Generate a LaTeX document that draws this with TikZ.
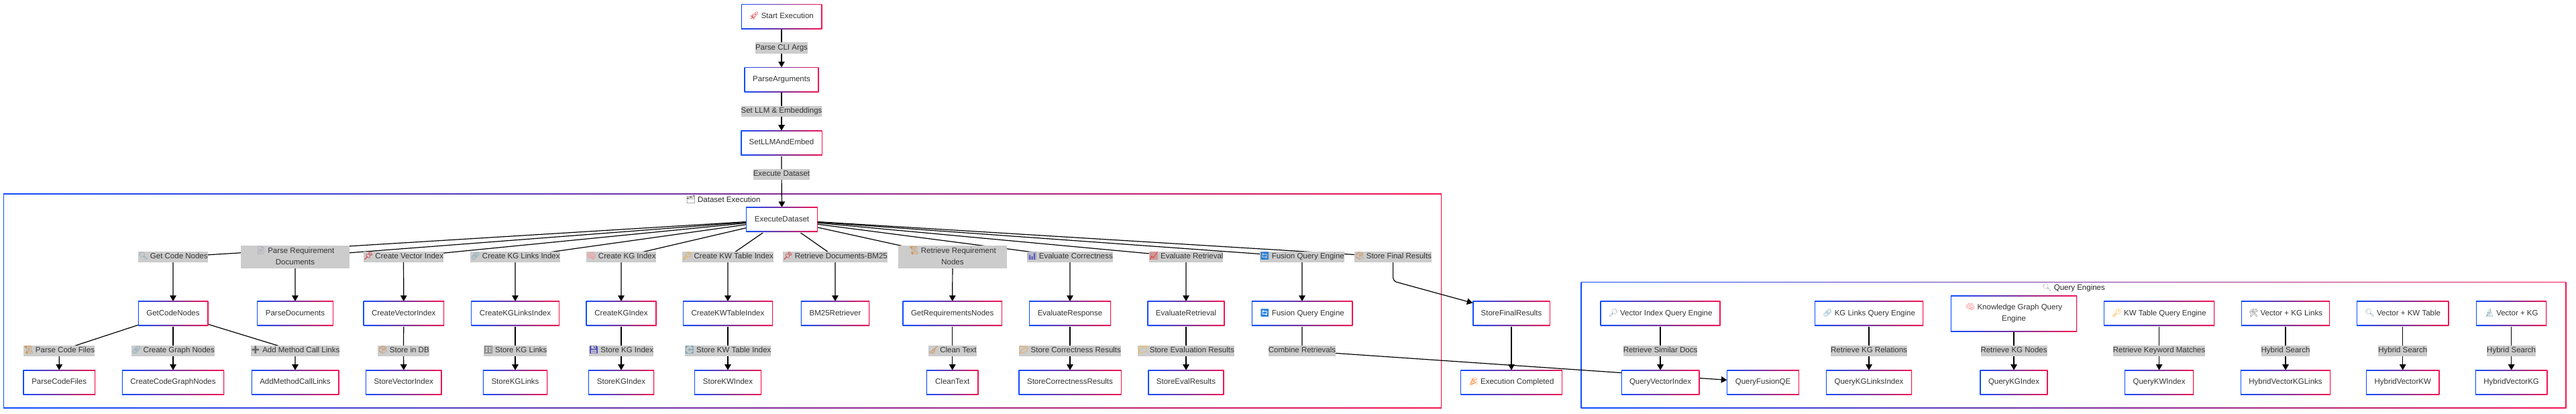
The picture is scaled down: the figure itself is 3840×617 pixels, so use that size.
\documentclass[tikz,border=0pt]{standalone}
\usepackage{fontspec}
\setmainfont{Liberation Sans}
\newfontfamily\emojifont{Noto Emoji}
\usetikzlibrary{arrows.meta}
\pgfdeclarelayer{clusterlayer}
\pgfdeclarelayer{edgelayer}
\pgfsetlayers{clusterlayer,edgelayer,main}
\definecolor{bblue}{HTML}{0F4DFF}
\definecolor{bpurple}{HTML}{7A2E9E}
\definecolor{bred}{HTML}{F5134F}
\definecolor{lblgray}{HTML}{CCCCCC}
\definecolor{txt}{HTML}{333333}
\newcommand{\emo}[2]{\smash{\emojifont\textcolor{#1}{#2}}\hspace{3pt}}
\newcommand{\mst}{\rule[-3pt]{0pt}{11.5pt}}
\tikzset{
  x=1pt,y=-1pt,
  gradbox/.style={rectangle,inner sep=0pt,outer sep=0pt,
    left color=bblue,right color=bred,middle color=bpurple,
    font=\fontsize{11.5pt}{17pt}\selectfont,text=txt,align=center},
  procbox/.style={gradbox,
    preaction={fill=black!9,transform canvas={shift={(0.4pt,-1pt)}}},
    path picture={\fill[white]
      ([shift={(1.2pt,-1.2pt)}]path picture bounding box.north west) rectangle
      ([shift={(-1.2pt,1.2pt)}]path picture bounding box.south east);}},
  clusterbox/.style={gradbox,
    path picture={\fill[white]
      ([shift={(1.1pt,-1.1pt)}]path picture bounding box.north west) rectangle
      ([shift={(-1.1pt,1.1pt)}]path picture bounding box.south east);}},
  lbl/.style={rectangle,fill=lblgray,inner sep=0pt,outer sep=0pt,text=txt,align=center,
    font=\fontsize{11.5pt}{17pt}\selectfont},
  title/.style={inner sep=0pt,text=black!85,font=\fontsize{11.5pt}{17pt}\selectfont},
  edge/.style={draw=black,line width=1.2pt,-{Triangle[length=8.5pt,width=9.5pt]}},
}
% \pn{name}{cx}{width}{cy}{height}{text}
\newcommand{\pn}[6]{\node[procbox,minimum width=#3pt,minimum height=#5pt] (#1) at (#2,#4) {\mst #6\mst};}
% \lb{name}{cx}{width}{cy}{text}
\newcommand{\lb}[5]{\node[lbl,minimum width=#3pt,minimum height=16.7pt] (#1) at (#2,#4) {\mst #5\mst};}
\begin{document}
\begin{tikzpicture}
\useasboundingbox (0,0) rectangle (3840,617);

\begin{pgfonlayer}{clusterlayer}
\fill[white] (0,0) rectangle (3840,617);
\node[clusterbox,minimum width=2144pt,minimum height=320pt] (dsc) at (1077.2,448.5) {};
\node[clusterbox,minimum width=1469pt,minimum height=188pt] (qec) at (3091,514.3) {};
\end{pgfonlayer}
\node[title] (dst) at (1078,297) {\emo{black!70}{🗂}Dataset Execution};
\node[title] (qet) at (3091,429.3) {\emo{lightgray!50!gray}{🔍}Query Engines};

% top column
\pn{st}{1165}{120.5}{24.7}{37.3}{\emo{red!70!gray}{🚀}Start Execution}
\pn{pa}{1165}{111}{118.8}{37}{ParseArguments}
\pn{sl}{1165}{121.4}{213.2}{37}{SetLLMAndEmbed}
\pn{ex}{1165.5}{106.8}{327.3}{36.7}{ExecuteDataset}
\lb{l1}{1165}{75.5}{71.7}{Parse CLI Args}
\lb{l2}{1165}{119}{166}{Set LLM \& Embeddings}
\lb{l3}{1165}{83.2}{260}{Execute Dataset}

% second row
\pn{gc}{258}{104.5}{467.3}{36.7}{GetCodeNodes}
\pn{pd}{440}{113.5}{467.3}{36.7}{ParseDocuments}
\pn{cv}{601.8}{120.5}{467.3}{36.7}{CreateVectorIndex}
\pn{ckl}{768}{131.5}{467.3}{36.7}{CreateKGLinksIndex}
\pn{ck}{926}{105}{467.3}{36.7}{CreateKGIndex}
\pn{ckw}{1085}{134}{467.3}{36.7}{CreateKWTableIndex}
\pn{bm}{1245}{102.4}{467.3}{36.7}{BM25Retriever}
\pn{gr}{1419.7}{148.4}{467.3}{36.7}{GetRequirementsNodes}
\pn{er}{1595}{122}{467.3}{36.7}{EvaluateResponse}
\pn{ev}{1768}{115.3}{467.3}{36.7}{EvaluateRetrieval}
\pn{fq}{1941}{150.5}{467.3}{36.7}{\emo{blue!50!cyan!70!gray}{🔄}Fusion Query Engine}
\pn{sf}{2253}{115.4}{467.3}{36.7}{StoreFinalResults}

% first-row labels
\lb{a1}{258}{102}{383}{\emo{gray!60!cyan}{🔍}Get Code Nodes}
\node[lbl,minimum width=161.6pt,minimum height=33.7pt] (a2) at (440,383) {\mst\emo{blue!20!gray!70}{📄}Parse Requirement\\Documents\mst};
\lb{a3}{601.5}{117}{383}{\emo{red!85!black}{📌}Create Vector Index}
\lb{a4}{768}{131.5}{383}{\emo{cyan!40!gray}{🔗}Create KG Links Index}
\lb{a5}{926}{102}{383}{\emo{red!45!white}{🧠}Create KG Index}
\lb{a6}{1085}{134}{383}{\emo{orange!80!yellow}{🔑}Create KW Table Index}
\lb{a7}{1245}{153.2}{383}{\emo{red!85!black}{📌}Retrieve Documents-BM25}
\node[lbl,minimum width=162.2pt,minimum height=33.7pt] (a8) at (1420,383) {\mst\emo{brown!70!orange}{📜}Retrieve Requirement\\Nodes\mst};
\lb{a9}{1595}{125.6}{383}{\emo{blue!40!gray}{📊}Evaluate Correctness}
\lb{a10}{1768}{109.7}{383}{\emo{red!70!gray}{📈}Evaluate Retrieval}
\lb{a11}{1941}{123.5}{383}{\emo{blue!50!cyan!70!gray}{🔄}Fusion Query Engine}
\lb{a12}{2076.6}{113}{383}{\emo{brown!80!orange}{📦}Store Final Results}

% fourth-row nodes
\pn{pc}{88.2}{107.6}{570}{36.7}{ParseCodeFiles}
\pn{cg}{258}{152.3}{570}{36.7}{CreateCodeGraphNodes}
\pn{am}{440}{130.5}{570}{36.7}{AddMethodCallLinks}
\pn{sv}{601.8}{113.5}{570}{36.7}{StoreVectorIndex}
\pn{skl}{768}{96.4}{570}{36.7}{StoreKGLinks}
\pn{sk}{926}{98.2}{570}{36.7}{StoreKGIndex}
\pn{skw}{1085}{100}{570}{36.7}{StoreKWIndex}
\pn{ct}{1419.7}{77.9}{570}{36.7}{CleanText}
\pn{sc}{1595}{153.4}{570}{36.7}{StoreCorrectnessResults}
\pn{se}{1768}{113.3}{570}{36.7}{StoreEvalResults}
\pn{ec}{2253}{151.5}{570}{36.7}{\emo{orange!80!red}{🎉}Execution Completed}

% third-row labels
\lb{b1}{88.3}{104}{523}{\emo{brown!70!orange}{📜}Parse Code Files}
\lb{b2}{258}{122.8}{523}{\emo{cyan!40!gray}{🔗}Create Graph Nodes}
\lb{b3}{440}{130.4}{523}{\emo{black!60}{➕}Add Method Call Links}
\lb{b4}{601.5}{75.4}{523}{\emo{brown!80!orange}{📦}Store in DB}
\lb{b5}{768}{87.5}{523}{\emo{black!75}{🗄}Store KG Links}
\lb{b6}{926}{94.2}{523}{\emo{blue!45!gray}{💾}Store KG Index}
\lb{b7}{1085}{127.2}{523}{\emo{cyan!40!gray}{💽}Store KW Table Index}
\lb{b8}{1419.7}{71}{523}{\emo{brown!70!orange}{🧹}Clean Text}
\lb{b9}{1595}{150}{523}{\emo{orange!90!yellow}{📂}Store Correctness Results}
\lb{b10}{1768}{141.3}{523}{\emo{orange!60!yellow}{📁}Store Evaluation Results}
\lb{b11}{1941}{98.5}{523}{Combine Retrievals}

% query engines
\pn{q1}{2475}{179}{467.3}{36.7}{\emo{cyan!30!gray}{🔎}Vector Index Query Engine}
\pn{q2}{2786}{162}{467.3}{36.7}{\emo{cyan!40!gray}{🔗}KG Links Query Engine}
\pn{q3}{3002}{188.2}{467.3}{54}{\emo{red!45!white}{🧠}Knowledge Graph Query\\Engine}
\pn{q4}{3218.6}{165}{467.3}{36.7}{\emo{orange!80!yellow}{🔑}KW Table Query Engine}
\pn{q5}{3407}{132}{467.3}{36.7}{\emo{black!60}{🛠}Vector + KG Links}
\pn{q6}{3581.7}{137}{467.3}{36.7}{\emo{cyan!30!gray}{🔍}Vector + KW Table}
\pn{q7}{3743.6}{105}{467.3}{36.7}{\emo{cyan!30!gray}{🔬}Vector + KG}

\lb{c1}{2475}{109}{523}{Retrieve Similar Docs}
\lb{c2}{2786}{112}{523}{Retrieve KG Relations}
\lb{c3}{3002}{97}{523}{Retrieve KG Nodes}
\lb{c4}{3218.6}{135}{523}{Retrieve Keyword Matches}
\lb{c5}{3407}{72}{523}{Hybrid Search}
\lb{c6}{3581.7}{72}{523}{Hybrid Search}
\lb{c7}{3743.6}{72}{523}{Hybrid Search}

\pn{r1}{2475}{116.5}{570}{36.7}{QueryVectorIndex}
\pn{rf}{2628}{107.5}{570}{36.7}{QueryFusionQE}
\pn{r2}{2786}{128}{570}{36.7}{QueryKGLinksIndex}
\pn{r3}{3002}{101.2}{570}{36.7}{QueryKGIndex}
\pn{r4}{3218.6}{103}{570}{36.7}{QueryKWIndex}
\pn{r5}{3407}{134}{570}{36.7}{HybridVectorKGLinks}
\pn{r6}{3581.7}{109}{570}{36.7}{HybridVectorKW}
\pn{r7}{3743.6}{107.5}{570}{36.7}{HybridVectorKG}

\coordinate (bend) at (2076.6,419);

\begin{pgfonlayer}{edgelayer}
\draw[edge] (st) -- (l1.center) -- (pa.north);
\draw[edge] (pa) -- (l2.center) -- (sl.north);
\draw[edge] (sl) -- (l3.center) -- (ex.north);

\draw[edge] (ex) -- (a1.center) -- (gc.north);
\draw[edge] (ex) -- (a2.center) -- (pd.north);
\draw[edge] (ex) -- (a3.center) -- (cv.north);
\draw[edge] (ex) -- (a4.center) -- (ckl.north);
\draw[edge] (ex) -- (a5.center) -- (ck.north);
\draw[edge] (ex) -- (a6.center) -- (ckw.north);
\draw[edge] (ex) -- (a7.center) -- (bm.north);
\draw[edge] (ex) -- (a8.center) -- (gr.north);
\draw[edge] (ex) -- (a9.center) -- (er.north);
\draw[edge] (ex) -- (a10.center) -- (ev.north);
\draw[edge] (ex) -- (a11.center) -- (fq.north);
\draw[edge,rounded corners=5pt] (ex) -- (a12.center) -- (bend) -- (sf);

\draw[edge] (gc) -- (b1.center) -- (pc.north);
\draw[edge] (gc) -- (b2.center) -- (cg.north);
\draw[edge] (gc) -- (b3.center) -- (am.north);
\draw[edge] (cv) -- (b4.center) -- (sv.north);
\draw[edge] (ckl) -- (b5.center) -- (skl.north);
\draw[edge] (ck) -- (b6.center) -- (sk.north);
\draw[edge] (ckw) -- (b7.center) -- (skw.north);
\draw[edge] (gr) -- (b8.center) -- (ct.north);
\draw[edge] (er) -- (b9.center) -- (sc.north);
\draw[edge] (ev) -- (b10.center) -- (se.north);
\draw[edge] (fq) -- (b11.center) -- (rf);
\draw[edge] (sf) -- (ec);

\draw[edge] (q1) -- (c1.center) -- (r1.north);
\draw[edge] (q2) -- (c2.center) -- (r2.north);
\draw[edge] (q3) -- (c3.center) -- (r3.north);
\draw[edge] (q4) -- (c4.center) -- (r4.north);
\draw[edge] (q5) -- (c5.center) -- (r5.north);
\draw[edge] (q6) -- (c6.center) -- (r6.north);
\draw[edge] (q7) -- (c7.center) -- (r7.north);
\end{pgfonlayer}
\end{tikzpicture}
\end{document}
